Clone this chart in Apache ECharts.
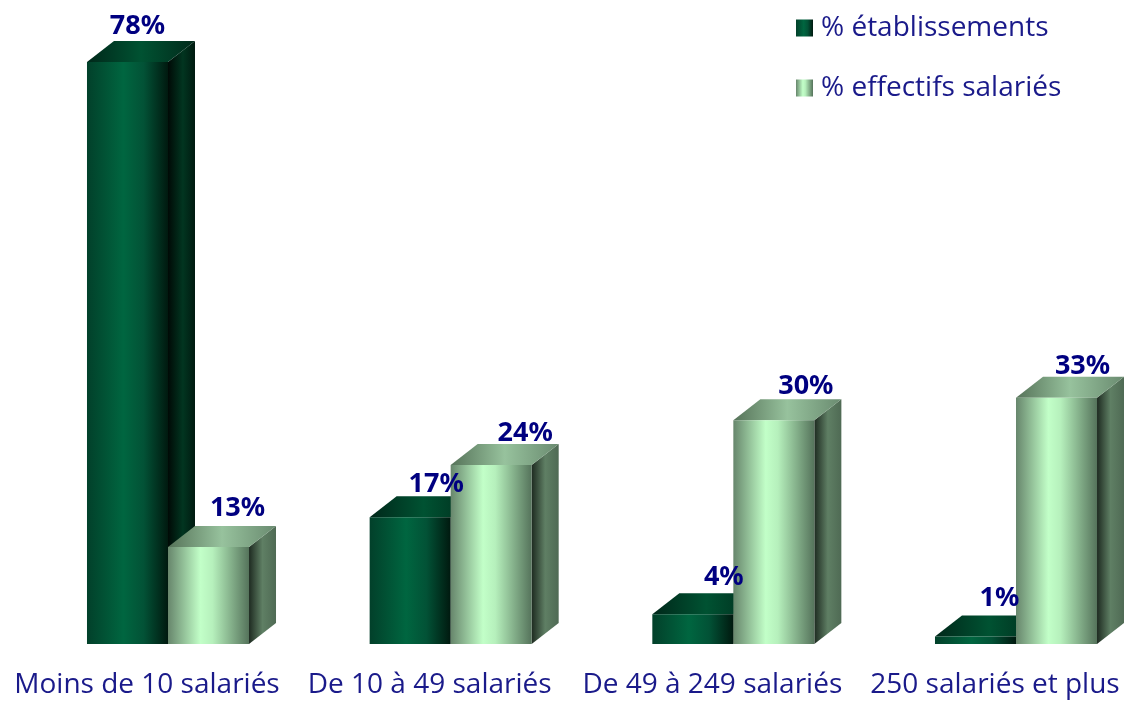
<!DOCTYPE html>
<html lang="fr">
<head>
    <meta charset="UTF-8">
    <title>Établissements et effectifs salariés</title>
    <script src="https://cdn.jsdelivr.net/npm/echarts@6/dist/echarts.min.js"></script>
    <style>
        html, body { margin: 0; padding: 0; background: #fff; }
        #main { width: 1124px; height: 701px; }
    </style>
</head>
<body>
    <div id="main"></div>
    <script type="text/javascript">
        var categories = ['Moins de 10 salariés', 'De 10 à 49 salariés', 'De 49 à 249 salariés', '250 salariés et plus'];
        var etablissements = [78, 17, 4, 1];
        var effectifs = [13, 24, 30, 33];

        // label shift from the centre of the bar
        var labelShiftEtab = [[10, -15], [26, -12], [31, -16], [24, -17]];
        var labelShiftEff = [[29, -18], [34, -11], [32, -13], [26, -10]];

        var NAVY = '#1a1a8a';
        var LABEL_NAVY = '#000080';
        var DEPTH_X = 27, DEPTH_Y = 21;

        function grad(stops) {
            return new echarts.graphic.LinearGradient(0, 0, 1, 0, stops.map(function (s) {
                return { offset: s[0], color: s[1] };
            }));
        }

        var darkFront = [[0, '#02402a'], [0.45, '#006640'], [0.7, '#025236'], [1, '#00190f']];
        var darkSide = [[0, '#000a06'], [0.55, '#013520'], [1, '#001a10']];
        var darkTop = [[0, '#00281a'], [0.5, '#005232'], [1, '#012a1b']];
        var lightFront = [[0, '#67866c'], [0.4, '#c2ffc8'], [0.55, '#b6f0bc'], [1, '#55735b']];
        var lightSide = [[0, '#1e2b21'], [0.5, '#5f7f64'], [1, '#4f6a54']];
        var lightTop = [[0, '#567359'], [0.5, '#97c29d'], [1, '#6a8b70']];

        function barRenderer(side, front, sideCol, top, shifts) {
            return function (params, api) {
                var base = api.coord([api.value(0), 0]);
                var head = api.coord([api.value(0), api.value(1)]);
                var w = api.size([1, 0])[0] * 0.2866;
                var x0 = base[0] + side * w;
                var x1 = x0 + w;
                var y0 = head[1], y1 = base[1];
                var shift = shifts[params.dataIndex];
                return {
                    type: 'group',
                    children: [
                        {
                            type: 'polygon',
                            z2: 1,
                            shape: { points: [[x1, y0], [x1 + DEPTH_X, y0 - DEPTH_Y], [x1 + DEPTH_X, y1 - DEPTH_Y], [x1, y1]] },
                            style: { fill: grad(sideCol) }
                        },
                        {
                            type: 'polygon',
                            z2: 1,
                            shape: { points: [[x0, y0], [x0 + DEPTH_X, y0 - DEPTH_Y], [x1 + DEPTH_X, y0 - DEPTH_Y], [x1, y0]] },
                            style: { fill: grad(top) }
                        },
                        {
                            type: 'rect',
                            z2: 2,
                            shape: { x: x0, y: y0, width: w, height: y1 - y0 },
                            style: { fill: grad(front) }
                        },
                        {
                            type: 'text',
                            z2: 10,
                            style: {
                                x: x0 + w / 2 + shift[0],
                                y: y0 - DEPTH_Y + shift[1],
                                text: api.value(1) + '%',
                                fill: LABEL_NAVY,
                                font: 'bold 27px "Noto Sans"',
                                align: 'center',
                                verticalAlign: 'middle'
                            }
                        }
                    ]
                };
            };
        }

        function pairs(values) {
            return values.map(function (v, i) { return [i, v]; });
        }

        var myChart = echarts.init(document.getElementById('main'));
        var option = {
            animation: false,
            backgroundColor: '#fff',
            grid: { left: 168, top: 62, width: 848, height: 582 },
            legend: {
                orient: 'vertical',
                left: 796,
                top: 14,
                padding: 0,
                itemWidth: 17,
                itemHeight: 17,
                itemGap: 32,
                icon: 'rect',
                textStyle: { color: NAVY, fontSize: 28, fontFamily: 'Open Sans', padding: [0, 0, 0, 3] },
                data: ['% établissements', '% effectifs salariés']
            },
            xAxis: {
                type: 'category',
                data: categories,
                boundaryGap: false,
                axisLine: { show: false },
                axisTick: { show: false },
                axisLabel: {
                    color: NAVY,
                    fontFamily: 'Open Sans',
                    fontSize: 28,
                    margin: 27,
                    interval: 0,
                    padding: [0, 42, 0, 0]
                }
            },
            yAxis: { type: 'value', min: 0, max: 78, show: false },
            series: [
                {
                    name: '% établissements',
                    type: 'custom',
                    renderItem: barRenderer(-1, darkFront, darkSide, darkTop, labelShiftEtab),
                    itemStyle: { color: grad(darkFront) },
                    encode: { x: 0, y: 1 },
                    clip: false,
                    data: pairs(etablissements)
                },
                {
                    name: '% effectifs salariés',
                    type: 'custom',
                    renderItem: barRenderer(0, lightFront, lightSide, lightTop, labelShiftEff),
                    itemStyle: { color: grad(lightFront) },
                    encode: { x: 0, y: 1 },
                    clip: false,
                    data: pairs(effectifs)
                }
            ]
        };
        myChart.setOption(option);
    </script>
</body>
</html>
